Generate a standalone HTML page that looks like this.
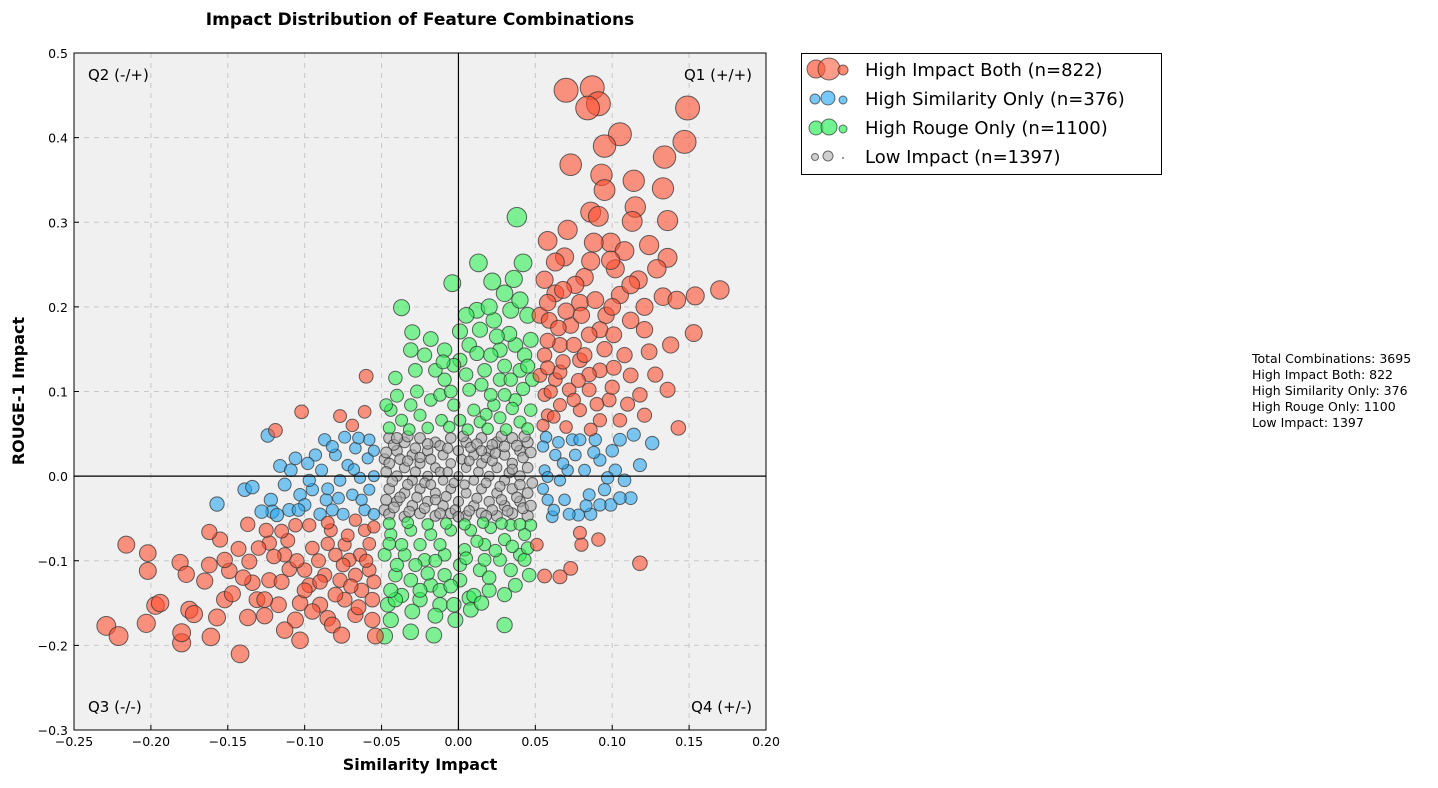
<!DOCTYPE html>
<html><head><meta charset="utf-8"><style>
body{margin:0;background:#fff;font-family:"DejaVu Sans","Liberation Sans",sans-serif}
svg text{font-family:"DejaVu Sans","Liberation Sans",sans-serif}
</style></head><body>
<svg id="c" width="1438" height="784" xmlns="http://www.w3.org/2000/svg">
<text x="420" y="25" text-anchor="middle" font-size="17" font-weight="bold">Impact Distribution of Feature Combinations</text>
<rect x="74" y="53" width="692" height="677" fill="#f0f0f0"/>
<g id="grid"></g><g id="pts"></g><g id="axes"></g>
<text x="420" y="770" text-anchor="middle" font-size="16" font-weight="bold">Similarity Impact</text>
<text transform="translate(24,391) rotate(-90)" text-anchor="middle" font-size="16" font-weight="bold">ROUGE-1 Impact</text>
<text x="88" y="80" font-size="15">Q2 (-/+)</text>
<text x="752" y="80" font-size="15" text-anchor="end">Q1 (+/+)</text>
<text x="88" y="712" font-size="15">Q3 (-/-)</text>
<text x="752" y="712" font-size="15" text-anchor="end">Q4 (+/-)</text>
<g>
<rect x="801.5" y="53.5" width="360" height="121" fill="#fff" stroke="#000"/>
<g>
<circle cx="816" cy="69" r="9" fill="#ff5a3c" fill-opacity="0.7" stroke="#333" stroke-opacity="0.7"/>
<circle cx="829" cy="69" r="11" fill="#ff5a3c" fill-opacity="0.6" stroke="#333" stroke-opacity="0.7"/>
<circle cx="843" cy="70" r="5" fill="#ff5a3c" fill-opacity="0.7" stroke="#333" stroke-opacity="0.7"/>
<text x="865" y="76" font-size="18">High Impact Both (n=822)</text></g>
<g>
<circle cx="815" cy="99" r="5" fill="#3ab0f5" fill-opacity="0.7" stroke="#333" stroke-opacity="0.7"/>
<circle cx="828" cy="98" r="7" fill="#3ab0f5" fill-opacity="0.7" stroke="#333" stroke-opacity="0.7"/>
<circle cx="843" cy="100" r="4" fill="#3ab0f5" fill-opacity="0.7" stroke="#333" stroke-opacity="0.7"/>
<text x="865" y="105" font-size="18">High Similarity Only (n=376)</text></g>
<g>
<circle cx="816" cy="128" r="7" fill="#33f060" fill-opacity="0.7" stroke="#333" stroke-opacity="0.7"/>
<circle cx="829" cy="127" r="8" fill="#33f060" fill-opacity="0.7" stroke="#333" stroke-opacity="0.7"/>
<circle cx="843" cy="129" r="4" fill="#33f060" fill-opacity="0.7" stroke="#333" stroke-opacity="0.7"/>
<text x="865" y="134" font-size="18">High Rouge Only (n=1100)</text></g>
<g>
<circle cx="815" cy="157" r="3.5" fill="#bbb" fill-opacity="0.7" stroke="#333" stroke-opacity="0.7"/>
<circle cx="828" cy="156" r="5" fill="#bbb" fill-opacity="0.7" stroke="#333" stroke-opacity="0.7"/>
<circle cx="843" cy="158" r="1" fill="#777"/>
<text x="865" y="163" font-size="18">Low Impact (n=1397)</text></g>
</g>
<g font-size="12.5">
<text x="1252" y="363">Total Combinations: 3695</text>
<text x="1252" y="379">High Impact Both: 822</text>
<text x="1252" y="395">High Similarity Only: 376</text>
<text x="1252" y="411">High Rouge Only: 1100</text>
<text x="1252" y="427">Low Impact: 1397</text>
</g>
</svg>
<script>
const xTicks=[-0.25,-0.2,-0.15,-0.1,-0.05,0,0.05,0.1,0.15,0.2];
const xTickLabels=["\u22120.25","\u22120.20","\u22120.15","\u22120.10","\u22120.05","0.00","0.05","0.10","0.15","0.20"];
const yTicks=[-0.3,-0.2,-0.1,0,0.1,0.2,0.3,0.4,0.5];
const yTickLabels=["\u22120.3","\u22120.2","\u22120.1","0.0","0.1","0.2","0.3","0.4","0.5"];
const seriesNames=["low-impact","high-rouge-only","high-similarity-only","high-impact-both"];
const lowImpact=[[-0.045,0.045],[-0.035,0.04],[-0.025,0.045],[-0.015,0.04],[-0.005,0.045],[0.005,0.04],[0.015,0.045],[0.025,0.04],[0.035,0.045],[0.045,0.04],[-0.04,0.03],[-0.03,0.025],[-0.02,0.03],[-0.01,0.025],[0.0,0.03],[0.01,0.025],[0.02,0.03],[0.03,0.025],[0.04,0.03],[-0.048,0.02],[-0.045,0.015],[-0.035,0.01],[-0.025,0.015],[-0.015,0.01],[-0.005,0.015],[0.005,0.01],[0.015,0.015],[0.025,0.01],[0.035,0.015],[0.045,0.01],[-0.04,0.0],[-0.03,-0.005],[-0.02,0.0],[-0.01,-0.005],[0.0,0.0],[0.01,-0.005],[0.02,0.0],[0.03,-0.005],[0.04,0.0],[0.048,-0.008],[-0.045,-0.015],[-0.035,-0.02],[-0.025,-0.015],[-0.015,-0.02],[-0.005,-0.015],[0.005,-0.02],[0.015,-0.015],[0.025,-0.02],[0.035,-0.015],[0.045,-0.02],[-0.04,-0.03],[-0.03,-0.035],[-0.02,-0.03],[-0.01,-0.035],[0.0,-0.03],[0.01,-0.035],[0.02,-0.03],[0.03,-0.035],[0.04,-0.03],[-0.048,-0.04],[-0.045,-0.045],[-0.035,-0.048],[-0.025,-0.044],[-0.015,-0.047],[-0.005,-0.044],[0.005,-0.047],[0.015,-0.044],[0.025,-0.047],[0.035,-0.044],[0.045,-0.047],[-0.042,0.037],[-0.028,0.033],[-0.012,0.036],[0.008,0.034],[0.022,0.037],[0.038,0.036],[-0.038,0.02],[-0.018,0.02],[0.002,0.02],[0.018,0.022],[0.042,0.022],[-0.043,-0.006],[-0.022,-0.008],[-0.003,-0.008],[0.013,0.005],[0.033,0.004],[-0.038,-0.025],[-0.008,-0.024],[0.012,-0.026],[0.038,-0.025],[-0.032,-0.042],[-0.002,-0.04],[0.022,-0.04],[0.042,-0.038],[-0.028,0.005],[0.027,-0.012],[-0.047,0.028],[-0.033,0.047],[-0.02,0.038],[-0.007,0.033],[0.003,0.047],[0.012,0.038],[0.028,0.047],[0.043,0.047],[-0.047,0.005],[-0.033,0.018],[-0.012,0.005],[0.007,0.018],[0.022,0.018],[0.03,0.035],[0.047,0.028],[-0.047,-0.028],[-0.033,-0.01],[-0.018,-0.01],[0.004,-0.01],[0.018,-0.008],[0.04,-0.01],[-0.042,-0.037],[-0.022,-0.038],[-0.012,-0.044],[0.007,-0.041],[0.028,-0.028],[0.047,-0.035],[-0.027,-0.025],[-0.015,-0.028],[0.018,-0.047],[0.032,-0.041],[-0.007,0.005],[0.035,0.008],[-0.04,0.045],[0.015,0.03],[-0.025,0.022],[0.0,-0.048],[0.024,0.027]];
const highRouge=[[0.038,0.306],[0.013,0.252],[-0.004,0.228],[0.022,0.23],[0.042,0.252],[-0.037,0.199],[0.012,0.196],[0.036,0.233],[0.03,0.216],[-0.03,0.17],[-0.018,0.162],[0.001,0.171],[-0.031,0.149],[-0.028,0.125],[-0.041,0.116],[-0.022,0.143],[-0.009,0.149],[0.001,0.137],[0.014,0.173],[0.023,0.184],[0.034,0.196],[0.04,0.208],[0.045,0.19],[0.027,0.149],[0.037,0.155],[0.047,0.161],[0.017,0.125],[0.027,0.114],[0.04,0.125],[0.048,0.114],[0.007,0.102],[-0.009,0.114],[-0.018,0.09],[-0.031,0.084],[-0.044,0.078],[-0.047,0.084],[-0.003,0.084],[0.01,0.078],[0.023,0.084],[0.037,0.09],[0.047,0.078],[-0.011,0.066],[0.001,0.066],[0.014,0.064],[0.027,0.069],[0.04,0.064],[-0.037,0.066],[-0.025,0.072],[0.03,0.096],[0.021,0.143],[0.007,0.155],[0.043,0.143],[-0.003,0.131],[-0.012,0.096],[0.034,0.114],[0.021,0.096],[-0.048,-0.189],[-0.031,-0.184],[-0.016,-0.188],[0.03,-0.176],[-0.044,-0.17],[-0.046,-0.152],[-0.037,-0.141],[-0.025,-0.146],[-0.012,-0.152],[-0.003,-0.152],[0.007,-0.144],[0.02,-0.135],[0.037,-0.129],[0.046,-0.117],[-0.041,-0.117],[-0.031,-0.123],[-0.018,-0.129],[-0.009,-0.117],[0.001,-0.123],[0.014,-0.111],[0.027,-0.099],[0.04,-0.093],[-0.048,-0.093],[-0.035,-0.093],[-0.022,-0.099],[-0.009,-0.093],[0.004,-0.087],[0.017,-0.081],[0.03,-0.075],[0.043,-0.069],[-0.044,-0.069],[-0.031,-0.064],[-0.018,-0.069],[-0.005,-0.064],[0.008,-0.064],[0.021,-0.061],[0.034,-0.058],[0.047,-0.058],[-0.037,-0.081],[-0.025,-0.081],[-0.012,-0.081],[0.001,-0.105],[-0.012,-0.135],[0.01,-0.141],[-0.002,-0.17],[-0.041,-0.146],[0.034,-0.111],[0.017,-0.099],[-0.028,-0.105],[-0.044,-0.135],[0.008,-0.158],[0.043,-0.099],[-0.045,0.057],[-0.032,0.055],[-0.02,0.057],[-0.006,0.058],[0.006,0.055],[0.019,0.056],[0.031,0.055],[0.045,0.056],[-0.04,0.095],[-0.027,0.1],[-0.005,0.1],[0.015,0.108],[0.042,0.103],[-0.015,0.125],[0.005,0.12],[0.03,0.13],[0.045,0.13],[0.012,0.145],[0.033,0.168],[0.02,0.2],[0.025,0.165],[0.005,0.19],[-0.01,0.135],[0.035,0.08],[0.018,0.073],[-0.045,-0.056],[-0.033,-0.055],[-0.02,-0.057],[-0.008,-0.056],[0.004,-0.057],[0.016,-0.055],[0.028,-0.056],[0.04,-0.057],[-0.04,-0.105],[-0.015,-0.1],[0.005,-0.097],[0.024,-0.088],[0.035,-0.083],[-0.02,-0.115],[0.02,-0.12],[0.03,-0.14],[-0.03,-0.16],[-0.015,-0.165],[0.015,-0.15],[-0.045,-0.08],[0.045,-0.085],[-0.005,-0.13],[0.012,-0.077],[-0.025,-0.135]];
const highSimilarity=[[-0.157,-0.033],[-0.139,-0.016],[-0.134,-0.013],[-0.124,0.048],[-0.122,-0.028],[-0.121,-0.042],[-0.116,0.012],[-0.113,-0.01],[-0.109,0.007],[-0.106,0.021],[-0.103,-0.022],[-0.1,-0.034],[-0.095,-0.016],[-0.093,0.025],[-0.089,0.007],[-0.086,-0.028],[-0.082,-0.04],[-0.077,-0.005],[-0.074,0.046],[-0.072,0.013],[-0.069,-0.022],[-0.067,0.033],[-0.064,-0.002],[-0.061,-0.04],[-0.059,0.021],[-0.058,-0.016],[-0.063,-0.028],[-0.078,-0.026],[-0.097,-0.005],[-0.11,-0.04],[-0.118,-0.046],[-0.128,-0.042],[-0.087,0.043],[-0.08,0.025],[-0.058,0.043],[-0.068,0.008],[0.057,0.046],[0.063,0.025],[0.066,-0.005],[0.069,-0.028],[0.074,0.043],[0.078,-0.046],[0.082,0.007],[0.085,-0.022],[0.089,0.043],[0.092,0.019],[0.095,-0.016],[0.099,-0.034],[0.102,0.007],[0.105,0.043],[0.108,-0.005],[0.112,-0.026],[0.114,0.049],[0.118,0.013],[0.126,0.039],[0.058,-0.028],[0.061,-0.048],[0.071,0.007],[0.076,0.025],[0.092,-0.034],[0.105,-0.026],[0.079,0.043],[0.056,0.007],[-0.09,-0.045],[-0.075,-0.045],[-0.055,-0.045],[-0.055,0.0],[-0.055,0.03],[-0.065,0.045],[-0.085,-0.015],[-0.098,0.015],[-0.104,-0.04],[-0.082,0.035],[0.055,-0.015],[0.055,0.035],[0.062,-0.04],[0.068,0.015],[0.072,-0.045],[0.086,-0.045],[0.088,0.028],[0.097,-0.002],[0.1,0.03],[0.058,-0.001],[0.083,-0.035],[0.065,0.04]];
const highBoth=[[0.07,0.456],[0.087,0.459],[0.091,0.44],[0.084,0.435],[0.149,0.435],[0.105,0.404],[0.095,0.39],[0.147,0.395],[0.134,0.377],[0.073,0.368],[0.093,0.356],[0.114,0.349],[0.095,0.338],[0.133,0.34],[0.115,0.318],[0.086,0.312],[0.091,0.307],[0.113,0.301],[0.136,0.302],[0.071,0.291],[0.099,0.276],[0.124,0.273],[0.088,0.276],[0.108,0.266],[0.058,0.278],[0.136,0.258],[0.086,0.254],[0.069,0.259],[0.129,0.245],[0.102,0.245],[0.117,0.232],[0.17,0.22],[0.154,0.213],[0.133,0.212],[0.142,0.208],[0.121,0.2],[0.153,0.169],[0.138,0.155],[0.121,0.173],[0.096,0.19],[0.079,0.205],[0.063,0.216],[0.056,0.232],[0.063,0.253],[0.082,0.235],[0.105,0.214],[0.092,0.173],[0.108,0.143],[0.124,0.147],[0.128,0.12],[0.136,0.102],[0.118,0.096],[0.112,0.119],[0.092,0.125],[0.079,0.137],[0.066,0.155],[0.056,0.143],[0.063,0.114],[0.072,0.102],[0.085,0.102],[0.098,0.09],[0.105,0.066],[0.121,0.072],[0.143,0.057],[0.092,0.066],[0.079,0.078],[0.066,0.084],[0.056,0.096],[0.058,0.072],[0.073,0.178],[0.085,0.167],[0.101,0.167],[0.053,0.19],[0.059,0.184],[0.076,0.226],[0.099,0.255],[0.112,0.226],[0.082,0.143],[0.101,0.128],[0.066,0.123],[0.053,0.119],[0.089,0.208],[0.112,0.184],[0.118,-0.103],[0.091,-0.075],[0.08,-0.081],[0.073,-0.109],[0.056,-0.118],[0.066,-0.119],[0.051,-0.081],[0.079,-0.067],[-0.102,0.076],[-0.06,0.118],[-0.077,0.071],[-0.069,0.06],[-0.119,0.054],[-0.061,0.076],[-0.229,-0.177],[-0.221,-0.189],[-0.216,-0.081],[-0.202,-0.091],[-0.202,-0.112],[-0.203,-0.174],[-0.197,-0.153],[-0.194,-0.15],[-0.18,-0.197],[-0.18,-0.185],[-0.175,-0.158],[-0.172,-0.163],[-0.181,-0.102],[-0.177,-0.116],[-0.165,-0.124],[-0.162,-0.105],[-0.161,-0.19],[-0.157,-0.167],[-0.152,-0.146],[-0.147,-0.139],[-0.142,-0.21],[-0.149,-0.112],[-0.143,-0.086],[-0.137,-0.057],[-0.134,-0.126],[-0.131,-0.146],[-0.126,-0.165],[-0.137,-0.167],[-0.123,-0.123],[-0.117,-0.152],[-0.113,-0.093],[-0.106,-0.17],[-0.103,-0.15],[-0.097,-0.129],[-0.091,-0.1],[-0.085,-0.168],[-0.082,-0.176],[-0.074,-0.146],[-0.076,-0.188],[-0.067,-0.164],[-0.063,-0.135],[-0.058,-0.111],[-0.054,-0.189],[-0.056,-0.17],[-0.064,-0.093],[-0.074,-0.081],[-0.083,-0.064],[-0.097,-0.058],[-0.106,-0.058],[-0.111,-0.076],[-0.123,-0.079],[-0.125,-0.064],[-0.155,-0.075],[-0.162,-0.066],[-0.136,-0.101],[-0.152,-0.099],[-0.1,-0.111],[-0.087,-0.117],[-0.077,-0.123],[-0.067,-0.117],[-0.061,-0.064],[-0.067,-0.052],[-0.09,-0.152],[-0.113,-0.182],[-0.126,-0.146],[-0.103,-0.194],[-0.056,-0.146],[-0.071,-0.099],[-0.08,-0.093],[0.055,0.06],[0.062,0.07],[0.07,0.058],[0.075,0.09],[0.06,0.1],[0.068,0.135],[0.058,0.16],[0.075,0.155],[0.085,0.12],[0.09,0.085],[0.1,0.105],[0.095,0.15],[0.07,0.195],[0.08,0.19],[0.065,0.175],[0.086,0.055],[0.11,0.085],[0.058,0.128],[0.078,0.113],[0.1,0.2],[0.058,0.205],[0.068,0.22],[-0.055,-0.06],[-0.058,-0.08],[-0.06,-0.1],[-0.072,-0.07],[-0.085,-0.08],[-0.095,-0.085],[-0.07,-0.13],[-0.08,-0.14],[-0.09,-0.125],[-0.1,-0.135],[-0.11,-0.11],[-0.115,-0.125],[-0.095,-0.16],[-0.065,-0.155],[-0.055,-0.125],[-0.105,-0.1],[-0.12,-0.095],[-0.075,-0.105],[-0.085,-0.055],[-0.115,-0.065],[-0.13,-0.085],[-0.14,-0.12]];

const NS="http://www.w3.org/2000/svg";
const X0=74,X1=766,Y0=730,Y1=53;
function sx(v){return X0+(v+0.25)/0.45*(X1-X0);}
function sy(v){return Y0-(v+0.3)/0.8*(Y0-Y1);}
function mk(tag,attrs,parent){const e=document.createElementNS(NS,tag);for(const k in attrs)e.setAttribute(k,attrs[k]);parent.appendChild(e);return e;}
const grid=document.getElementById('grid'),axes=document.getElementById('axes'),pts=document.getElementById('pts');
xTicks.forEach((t,i)=>{
  const x=sx(t);
  if(i>0&&i<xTicks.length-1){const l=mk('line',{x1:x,x2:x,y1:Y1,y2:Y0,stroke:'#c8c8c8','stroke-dasharray':'5,5'},grid);
  
  }
  const tk=mk('line',{x1:x,x2:x,y1:Y0,y2:Y0-5,stroke:'#000'},axes);
  
  
  const tx=mk('text',{x:x,y:Y0+16,'text-anchor':'middle','font-size':12.5},axes);
  tx.textContent=xTickLabels[i];
  
  
});
yTicks.forEach((t,i)=>{
  const y=sy(t);
  if(i>0&&i<yTicks.length-1){const l=mk('line',{x1:X0,x2:X1,y1:y,y2:y,stroke:'#c8c8c8','stroke-dasharray':'5,5'},grid);
  
  }
  const tk=mk('line',{x1:X0,x2:X0+5,y1:y,y2:y,stroke:'#000'},axes);
  
  
  const tx=mk('text',{x:X0-6,y:y+5,'text-anchor':'end','font-size':12.5},axes);
  tx.textContent=yTickLabels[i];
  
  
});
const zx=mk('line',{x1:sx(0),x2:sx(0),y1:Y1,y2:Y0,stroke:'#000','stroke-width':1.2},axes);


const zy=mk('line',{x1:X0,x2:X1,y1:sy(0),y2:sy(0),stroke:'#000','stroke-width':1.2},axes);


const fr=mk('rect',{x:X0,y:Y1,width:X1-X0,height:Y0-Y1,fill:'none',stroke:'#000'},axes);


const sets=[[lowImpact,'#a8a8a8',4.6],[highRouge,'#2ef055',4.8],[highSimilarity,'#2aa8f0',4.6],[highBoth,'#ff4f30',4.8]];
sets.forEach((s,si)=>{
  const g=mk('g',{},pts);
  
  
  s[0].forEach(p=>{
    const d=Math.sqrt(p[0]*p[0]+p[1]*p[1]);
    const c=mk('circle',{cx:sx(p[0]),cy:sy(p[1]),r:Math.min(12,s[2]+16*d),fill:s[1],'fill-opacity':0.6,stroke:'#333','stroke-opacity':0.75,'stroke-width':1},g);
    
    
  });
});
</script>
</body></html>
